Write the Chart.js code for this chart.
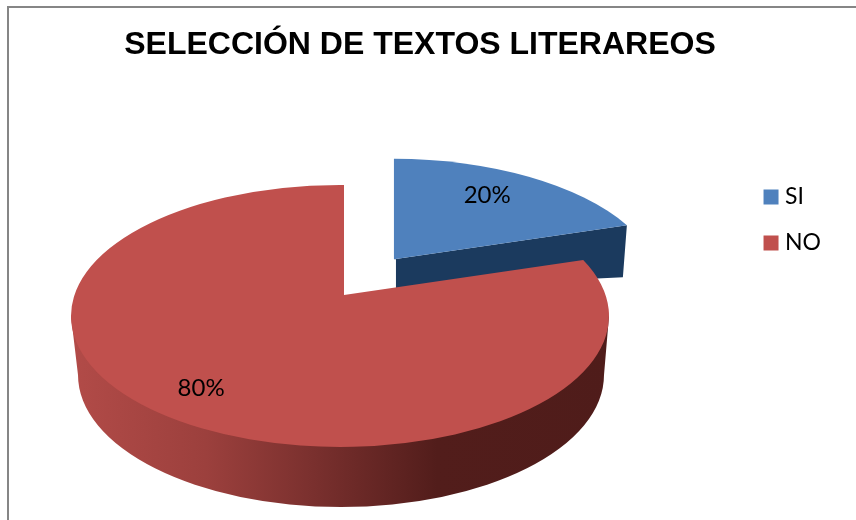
<!DOCTYPE html>
<html>
<head>
<meta charset="utf-8">
<style>html,body{margin:0;padding:0;background:#fff;overflow:hidden}canvas{display:block}</style>
<script src="https://cdn.jsdelivr.net/npm/chart.js@4/dist/chart.umd.min.js"></script>
</head>
<body>
<canvas id="c" width="856" height="520"></canvas>
<script>
const titleText = 'SELECCIÓN DE TEXTOS LITERAREOS';
const categories = ['SI', 'NO'];
const seriesValues = [20, 80];
const sliceColors = ['#4f81bd', '#c0504d'];
const valueLabels = ['20%', '80%'];

const view = {
  center: { x: 340, y: 316 }, squash: 131 / 269, ray: 0.45,
  apex: { x: 4, y: -21 }, rimLift: 0.38, rimPush: 1.06, apexLift: 0.52,
  floor: { x: 1, y: 59, rx: -6, ry: 1 },
  wall: { near: 29, far: 52, inset: 4 },
  labelAt: [0.72, 0.77],
  labelNudge: [{ x: -3, y: -4 }, { x: 2, y: 4 }]
};

function geometry(arc, opt) {
  const mid = (arc.startAngle + arc.endAngle) / 2, off = opt.offset || 0;
  const rx = arc.outerRadius, ry = rx * view.squash;
  const cx = view.center.x + Math.cos(mid) * off * view.rimPush;
  const cy = view.center.y + Math.sin(mid) * off * view.rimLift;
  const ax = view.center.x + view.apex.x + Math.cos(mid) * off;
  const ay = view.center.y + view.apex.y + Math.sin(mid) * off * view.apexLift;
  const hit = (a) => {
    const dx = Math.cos(a), dy = Math.sin(a) * view.ray;
    const ux = dx / rx, uy = dy / ry, px = (ax - cx) / rx, py = (ay - cy) / ry;
    const A = ux * ux + uy * uy, B = 2 * (px * ux + py * uy), C = px * px + py * py - 1;
    const t = (-B + Math.sqrt(B * B - 4 * A * C)) / (2 * A);
    return { t, x: ax + dx * t, y: ay + dy * t, p: Math.atan2(ay + dy * t - cy, (ax + dx * t - cx) * ry / rx) };
  };
  return { mid, rx, ry, cx, cy, ax, ay, hit, s: hit(arc.startAngle), e: hit(arc.endAngle) };
}

const pie3d = {
  id: 'pie3d',
  beforeDatasetsDraw(chart) {
    const ctx = chart.ctx, meta = chart.getDatasetMeta(0);
    const order = meta.data.map((_, i) => i).sort((a, b) => (meta.data[b].options.offset || 0) - (meta.data[a].options.offset || 0));
    order.forEach((i) => {
      const arc = meta.data[i], g = geometry(arc, arc.options);
      ctx.save();
      if (arc.endAngle > Math.PI / 2) {
        const f = view.floor;
        const grad = ctx.createLinearGradient(g.cx - g.rx, 0, g.cx + g.rx, 0);
        grad.addColorStop(0, '#b24b48');
        grad.addColorStop(0.25, '#9c403d');
        grad.addColorStop(0.45, '#7a302e');
        grad.addColorStop(0.68, '#521d1b');
        grad.addColorStop(1, '#4f1c1a');
        ctx.fillStyle = grad;
        ctx.beginPath();
        ctx.moveTo(g.cx + g.rx, g.cy);
        ctx.ellipse(g.cx + f.x, g.cy + f.y, g.rx + f.rx, g.ry + f.ry, 0, 0, Math.PI);
        ctx.lineTo(g.cx - g.rx, g.cy);
        ctx.closePath();
        ctx.fill();
      } else {
        const w = view.wall;
        ctx.fillStyle = '#1b3a5e';
        ctx.beginPath();
        ctx.moveTo(g.ax, g.ay);
        ctx.lineTo(g.e.x, g.e.y);
        ctx.lineTo(g.e.x - w.inset, g.e.y + w.far);
        ctx.lineTo(g.ax + 2, g.ay + w.near);
        ctx.lineTo(g.ax + 2, g.ay);
        ctx.closePath();
        ctx.fill();
      }
      ctx.fillStyle = arc.options.backgroundColor;
      ctx.beginPath();
      ctx.moveTo(g.ax, g.ay);
      ctx.ellipse(g.cx, g.cy, g.rx, g.ry, 0, g.s.p, g.e.p);
      ctx.closePath();
      ctx.fill();
      ctx.restore();
    });
    ctx.save();
    ctx.fillStyle = '#000';
    ctx.font = '24px Lato';
    ctx.textAlign = 'center';
    ctx.textBaseline = 'middle';
    meta.data.forEach((arc, i) => {
      const g = geometry(arc, arc.options), m = g.hit(g.mid), k = view.labelAt[i], n = view.labelNudge[i];
      ctx.fillText(valueLabels[i], g.ax + (m.x - g.ax) * k + n.x, g.ay + (m.y - g.ay) * k + n.y);
    });
    ctx.restore();
    return false;
  }
};

new Chart(document.getElementById('c'), {
  type: 'pie',
  data: {
    labels: categories,
    datasets: [{ data: seriesValues, backgroundColor: sliceColors, borderWidth: 0, offset: [85, 0] }]
  },
  plugins: [pie3d],
  options: {
    responsive: false,
    animation: false,
    radius: 269,
    layout: { padding: { left: 9, right: 25, top: 0, bottom: 80 } },
    plugins: {
      tooltip: { enabled: false },
      title: {
        display: true, text: titleText, color: '#000', align: 'center',
        font: { family: 'Liberation Sans', size: 32, weight: 'bold' },
        padding: { top: 26, bottom: 0 }
      },
      legend: {
        position: 'right',
        labels: {
          color: '#000', font: { family: 'Lato', size: 23 }, boxWidth: 5, boxHeight: 5, padding: 23,
          generateLabels: () => categories.map((t, i) => ({
            text: t, fillStyle: sliceColors[i], strokeStyle: sliceColors[i], lineWidth: 10, index: i, hidden: false
          }))
        }
      }
    }
  }
});
</script>
<div style="position:absolute;left:7px;top:6px;width:900px;height:600px;border-left:2px solid #868686;border-top:2px solid #868686"></div>
</body>
</html>
